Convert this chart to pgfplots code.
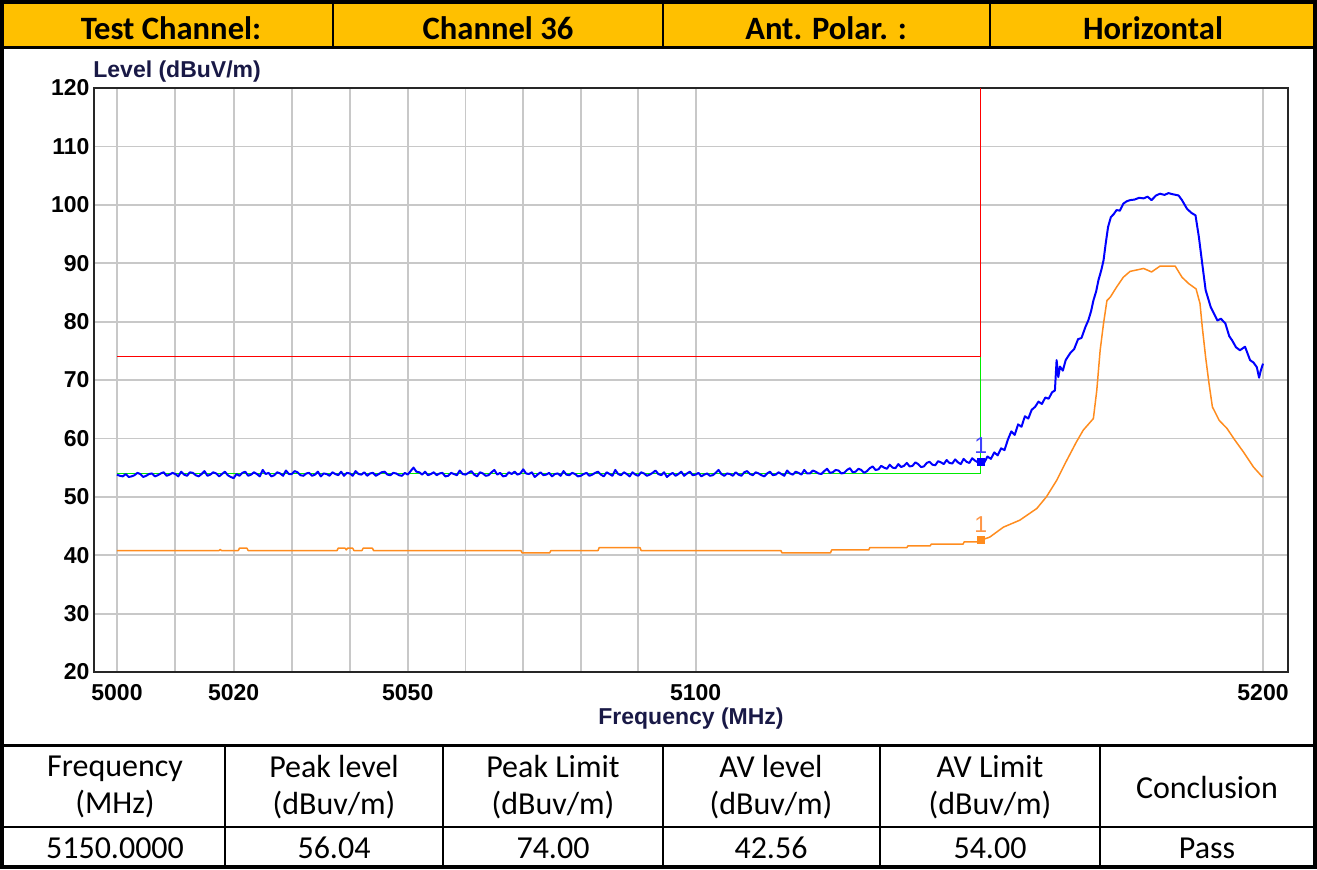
\documentclass[border=0pt]{standalone}
\usepackage{pgfplots}
\pgfplotsset{compat=1.18}
\usepackage{fontspec}
\setmainfont{Liberation Sans}
\newfontfamily\calibri{Carlito}

\definecolor{hdr}{RGB}{255,192,0}
\definecolor{trblue}{RGB}{0,0,255}
\definecolor{trorange}{RGB}{255,140,30}
\definecolor{lborange}{RGB}{255,150,70}
\definecolor{limgreen}{RGB}{0,235,0}
\definecolor{gridgray}{RGB}{200,200,200}
\definecolor{lbl}{RGB}{25,25,70}

\begin{document}
\begin{tikzpicture}
% page = 1317 x 869 px, 1 px = 0.5pt
\begin{scope}[x=0.5pt,y=-0.5pt]
  \useasboundingbox (0,0) rectangle (1317,869);
  \fill[hdr] (3,3) rectangle (1314,47);
\end{scope}

\begin{axis}[
    at={(47pt,-336pt)}, anchor=south west,
    scale only axis,
    width=597pt, height=292pt,
    % log frequency axis: 5000*ln(f/5000) as a short series (xmode=log overflows here)
    x coord trafo/.code={\pgfmathparse{(#1-5000)*(1-(#1-5000)/10000+((#1-5000)/10000)*((#1-5000)/7500))}},
    x coord inv trafo/.code={\pgfmathparse{5000+#1*(1+#1/10000+(#1/10000)*(#1/15000))}},
    xmin=4996.07, xmax=5204.45,
    ymin=20, ymax=120,
    xtick={5000,5010,5020,5030,5040,5050,5060,5070,5080,5090,5100,5200},
    xticklabels={5000,,5020,,,5050,,,,,5100,5200},
    ytick={20,30,40,50,60,70,80,90,100,110,120},
    grid=major,
    grid style={gridgray, line width=0.9pt},
    tick style={draw=none},
    axis line style={black!85, line width=1pt},
    /pgf/number format/assume math mode=true,
    tick label style={font=\bfseries\fontsize{11.5}{13}\selectfont, text=black},
    xticklabel style={yshift=-2.5pt},
    yticklabel style={xshift=1.3pt},
    clip=false,
]

% peak limit
\addplot[red, line width=0.75pt] coordinates {(5000,74) (5150,74) (5150,120)};
% average limit
\addplot[limgreen, line width=0.75pt] coordinates {(5000,54) (5150,54) (5150,74)};

% average trace
\addplot[trorange, line width=0.75pt, line join=round] table {
5000 40.8
5017.5 40.8
5017.7 41.0
5017.9 40.8
5020.8 40.8
5021.0 41.2
5022.3 41.2
5022.5 40.8
5037.8 40.8
5038.0 41.2
5039.2 41.2
5039.4 40.9
5039.6 41.2
5040.5 41.2
5040.7 40.8
5042.1 40.8
5042.3 41.2
5043.9 41.2
5044.1 40.8
5069.6 40.8
5069.8 40.4
5074.6 40.4
5074.8 40.8
5083.0 40.8
5083.2 41.3
5090.3 41.3
5090.5 40.8
5114.9 40.8
5115.1 40.4
5123.6 40.4
5123.8 40.9
5130.3 40.9
5130.5 41.3
5137.0 41.3
5137.2 41.6
5141.1 41.6
5141.3 41.9
5146.9 41.9
5147.1 42.3
5149.7 42.3
5150.0 42.56
5151.6 43.1
5154.0 44.8
5156.9 46.0
5159.9 48.0
5161.6 50.0
5163.4 52.8
5164.9 55.7
5166.9 59.4
5168.1 61.4
5169.9 63.4
5170.5 68.2
5171.1 75.1
5171.7 79.7
5172.3 83.6
5172.9 84.2
5174.0 85.9
5175.2 87.6
5176.4 88.6
5178.8 89.1
5180.2 88.5
5181.7 89.5
5184.4 89.5
5185.6 87.6
5186.8 86.5
5188.1 85.6
5188.8 83.1
5189.2 79.1
5189.8 73.9
5190.4 69.4
5191.0 65.4
5192.2 63.1
5193.6 61.7
5195.0 59.7
5196.5 57.7
5198.3 55.1
5199.8 53.5
5200.0 53.4
};

% peak trace
\addplot[trblue, line width=1pt, line join=round] table {
5000 53.8
5000.5 53.6
5001 53.5
5001.5 53.9
5002 53.4
5002.5 53.5
5003 53.7
5003.5 54.1
5004 53.9
5004.5 53.4
5005 53.6
5005.5 53.9
5006 54.0
5006.5 53.5
5007 53.7
5007.5 54.0
5008 54.2
5008.5 53.6
5009 53.8
5009.5 54.1
5010 53.9
5010.5 53.5
5011 54.3
5011.5 53.8
5012 53.6
5012.5 54.2
5013 54.1
5013.5 53.7
5014 53.5
5014.5 53.9
5015 54.4
5015.5 53.6
5016 53.8
5016.5 54.2
5017 54.0
5017.5 53.5
5018 53.9
5018.5 54.3
5019 53.7
5019.5 53.4
5020 53.2
5020.5 53.9
5021 53.6
5021.5 54.1
5022 54.3
5022.5 53.6
5023 53.8
5023.5 54.2
5024 53.9
5024.5 53.5
5025 54.6
5025.5 53.9
5026 54.1
5026.5 53.5
5027 53.7
5027.5 54.2
5028 54.0
5028.5 53.6
5029 54.5
5029.5 53.9
5030 53.9
5030.5 54.4
5031 54.2
5031.5 53.7
5032 53.6
5032.5 54.0
5033 54.1
5033.5 53.6
5034 53.8
5034.5 54.3
5035 53.5
5035.5 54.0
5036 53.9
5036.5 53.6
5037 54.2
5037.5 53.9
5038 53.7
5038.5 54.3
5039 53.6
5039.5 54.1
5040 54.0
5040.5 53.6
5041 54.4
5041.5 53.9
5042 53.8
5042.5 54.2
5043 53.6
5043.5 54.0
5044 54.1
5044.5 53.6
5045 53.9
5045.5 54.2
5046 54.3
5046.5 53.8
5047 53.7
5047.5 54.1
5048 54.0
5048.5 53.7
5049 53.6
5049.5 54.1
5050 53.8
5050.5 54.4
5051 55.0
5051.5 54.3
5052 54.2
5052.5 53.8
5053 54.3
5053.5 53.7
5054 53.9
5054.5 54.2
5055 53.7
5055.5 54.0
5056 54.1
5056.5 53.5
5057 53.6
5057.5 54.1
5058 53.9
5058.5 53.7
5059 54.5
5059.5 53.9
5060 53.8
5060.5 54.1
5061 54.4
5061.5 53.8
5062 53.5
5062.5 54.2
5063 54.0
5063.5 53.6
5064 53.7
5064.5 54.2
5065 54.6
5065.5 53.8
5066 54.1
5066.5 53.5
5067 53.6
5067.5 54.2
5068 53.9
5068.5 54.3
5069 53.8
5069.5 54.0
5070 54.7
5070.5 54.0
5071 53.9
5071.5 54.2
5072 53.4
5072.5 53.8
5073 54.2
5073.5 53.7
5074 53.8
5074.5 54.1
5075 53.5
5075.5 53.9
5076 54.0
5076.5 53.6
5077 54.4
5077.5 53.8
5078 53.7
5078.5 54.1
5079 53.9
5079.5 53.5
5080 53.6
5080.5 53.9
5081 54.1
5081.5 53.6
5082 53.8
5082.5 54.1
5083 54.3
5083.5 53.8
5084 53.5
5084.5 54.2
5085 53.9
5085.5 53.6
5086 54.6
5086.5 53.9
5087 53.7
5087.5 54.2
5088 53.9
5088.5 53.5
5089 54.2
5089.5 53.8
5090 53.6
5090.5 54.2
5091 54.0
5091.5 53.6
5092 53.8
5092.5 54.1
5093 54.5
5093.5 53.9
5094 53.7
5094.5 54.2
5095 53.4
5095.5 53.8
5096 54.1
5096.5 53.6
5097 53.9
5097.5 54.3
5098 53.6
5098.5 54.0
5099 54.3
5099.5 53.7
5100 53.8
5100.5 54.1
5101 53.5
5101.5 53.8
5102 54.0
5102.5 53.6
5103 53.7
5103.5 54.1
5104 54.6
5104.5 53.9
5105 53.6
5105.5 54.0
5106 53.9
5106.5 53.6
5107 54.2
5107.5 53.8
5108 53.6
5108.5 54.2
5109 54.4
5109.5 53.9
5110 53.7
5110.5 54.2
5111 54.0
5111.5 53.7
5112 53.5
5112.5 54.0
5113 54.3
5113.5 53.7
5114 53.8
5114.5 54.2
5115 53.9
5115.5 53.6
5116 54.5
5116.5 54.0
5117 53.8
5117.5 54.3
5118 54.1
5118.5 53.8
5119 54.6
5119.5 54.0
5120 54.0
5120.5 54.5
5121 54.3
5121.5 54.0
5122 53.9
5122.5 54.4
5123 54.8
5123.5 54.1
5124 54.2
5124.5 54.6
5125 54.5
5125.5 54.0
5126 54.1
5126.5 54.6
5127 54.9
5127.5 54.2
5128 54.3
5128.5 54.8
5129 54.6
5129.5 54.1
5130 54.4
5130.5 54.9
5131 55.2
5131.5 54.6
5132 54.7
5132.5 55.3
5133 55.0
5133.5 54.8
5134 55.5
5134.5 55.0
5135 54.9
5135.5 55.6
5136 55.1
5136.5 55.3
5137 55.8
5137.5 55.2
5138 55.3
5138.5 55.9
5139 55.6
5139.5 55.1
5140 55.2
5140.5 55.8
5141 56.0
5141.5 55.5
5142 55.4
5142.5 56.1
5143 55.9
5143.5 55.6
5144 56.3
5144.5 55.8
5145 55.7
5145.5 56.4
5146 55.9
5146.5 55.6
5147 56.5
5147.5 56.0
5148 55.8
5148.5 56.6
5149 56.2
5149.5 55.9
5150.0 56.04
5150.6 55.8
5151.2 56.9
5151.8 56.5
5152.4 57.6
5153.0 57.1
5153.6 58.3
5154.2 58.0
5154.8 59.8
5155.4 61.2
5156.0 60.6
5156.6 62.4
5157.2 62.0
5157.8 63.8
5158.4 63.4
5159.0 64.9
5159.6 65.4
5160.2 66.3
5160.8 65.9
5161.4 67.0
5162.0 66.8
5162.6 67.9
5163.1 68.2
5163.4 73.4
5163.7 70.5
5164.0 72.3
5164.5 71.6
5165.0 73.4
5165.8 74.6
5166.5 75.3
5167.2 77.0
5167.8 77.2
5168.5 79.1
5169.0 80.2
5169.5 81.8
5169.9 83.6
5170.4 85.2
5170.8 87.1
5171.3 88.8
5171.7 90.5
5172.1 93.5
5172.5 96.2
5173.0 97.9
5173.5 98.4
5174.0 99.1
5174.6 99.0
5175.2 100.2
5175.8 100.6
5176.4 100.8
5177.2 100.9
5178.0 101.2
5178.8 101.1
5179.5 101.4
5180.2 100.8
5181.0 101.6
5181.7 101.9
5182.5 101.7
5183.2 102.0
5184.0 101.8
5185.0 101.6
5185.6 100.8
5186.5 99.3
5187.3 98.6
5188.0 98.2
5188.6 94.5
5189.2 89.9
5189.8 85.4
5190.7 82.5
5191.9 80.2
5192.5 80.5
5193.3 79.7
5194.0 77.5
5194.5 76.8
5195.2 75.6
5195.9 75.1
5196.8 75.7
5197.7 73.4
5198.3 73.0
5198.9 72.2
5199.3 70.4
5199.6 71.6
5200.0 72.8
};

% markers
\addplot[only marks, mark=square*, mark size=1.75pt, trorange] coordinates {(5150,42.56)};
\addplot[only marks, mark=square*, mark size=1.75pt, trblue] coordinates {(5150,56.04)};
\node[anchor=south, inner sep=0pt, text=lborange, font=\fontsize{11.5}{12}\selectfont] at (axis cs:5150,42.56) [yshift=3.5pt] {1};
\node[anchor=south, inner sep=0pt, text=trblue!75!white, font=\fontsize{11.5}{12}\selectfont] at (axis cs:5150,56.04) [yshift=4pt] {1};
\end{axis}

\begin{scope}[x=0.5pt,y=-0.5pt]
  % axis titles
  \node[anchor=base west, inner sep=0pt, text=lbl, font=\bfseries\fontsize{11.5}{13}\selectfont] at (93,77) {Level (dBuV/m)};
  \node[anchor=base, inner sep=0pt, text=lbl, font=\bfseries\fontsize{11.5}{13}\selectfont] at (691,724) {Frequency (MHz)};

  % header
  \draw[black, line width=1.5pt] (3,47) -- (1314,47);
  \foreach \xx in {333,663,990} \draw[black, line width=1pt] (\xx,3) -- (\xx,47);
  \begin{scope}[every node/.style={inner sep=0pt, font=\calibri\bfseries\fontsize{16.3}{19}\selectfont}]
    \node at (171,28) {Test Channel:};
    \node at (498,28) {Channel 36};
    \node at (826,28) {Ant. Polar. :};
    \node at (1153,28) {Horizontal};
  \end{scope}

  % result table
  \draw[black, line width=1.5pt] (3,745) -- (1314,745);
  \draw[black, line width=1pt] (3,827) -- (1314,827);
  \foreach \xx in {225,443,663,880,1100} \draw[black, line width=1pt] (\xx,745) -- (\xx,867);
  \begin{scope}[every node/.style={inner sep=0pt, align=center, font=\calibri\fontsize{16}{18.5}\selectfont}]
    \node at (115,787) {Frequency\\(MHz)};
    \node at (334,787) {Peak level\\(dBuv/m)};
    \node at (553,787) {Peak Limit\\(dBuv/m)};
    \node at (771,787) {AV level\\(dBuv/m)};
    \node at (990,787) {AV Limit\\(dBuv/m)};
    \node at (1207,787) {Conclusion};
    \node at (115,848) {5150.0000};
    \node at (334,848) {56.04};
    \node at (553,848) {74.00};
    \node at (771,848) {42.56};
    \node at (990,848) {54.00};
    \node at (1207,848) {Pass};
  \end{scope}

  % outer frame
  \draw[black, line width=1.75pt] (2,2) rectangle (1315,867);
\end{scope}
\end{tikzpicture}
\end{document}
